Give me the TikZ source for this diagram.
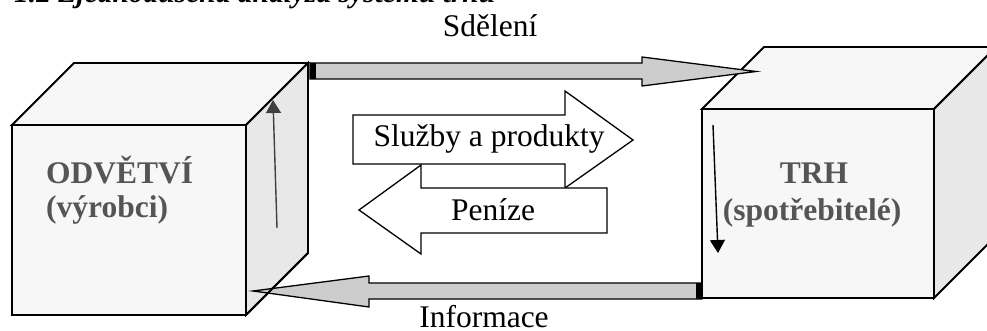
\documentclass[tikz,border=0pt]{standalone}
\usepackage{fontspec}
\setmainfont{Liberation Serif}
\usetikzlibrary{arrows.meta}
\definecolor{cubefront}{HTML}{F7F7F7}
\definecolor{cubeside}{HTML}{E8E8E8}
\definecolor{flowgray}{HTML}{CDCDCD}
\definecolor{labelgray}{HTML}{555555}
\definecolor{darkarrow}{HTML}{404040}
\begin{document}
\begin{tikzpicture}[x=1pt,y=-1pt,
  edge/.style={draw=black,line width=1.8pt,line join=miter},
  frontface/.style={edge,fill=cubefront},
  sideface/.style={edge,fill=cubeside},
  flowarrow/.style={draw=black,line width=1.3pt,fill=flowgray,line join=miter},
  tradearrow/.style={draw=black,line width=1.3pt,fill=white,line join=miter},
  tailbar/.style={fill=black},
  txt/.style={font=\fontsize{31.5}{36}\selectfont,inner sep=0pt,anchor=base},
  cubetxt/.style={txt,font=\fontsize{31.5}{36}\selectfont\bfseries,text=labelgray},
  cyclearrow/.style={line width=1.4pt,-{Triangle[length=13pt,width=15pt]}}]
\useasboundingbox (0,0) rectangle (987,331);
\clip (0,0) rectangle (987,331);

% caption line, cut by the top edge
\node[txt,anchor=base west,font=\fontsize{29.5}{34}\selectfont\bfseries\itshape]
  (caption) at (14,3) {1.2 Zjednodušená analýza systému trhu};

% ---- left cube: ODVĚTVÍ ----
\coordinate (Lftl) at (12,125);  \coordinate (Lftr) at (246,125);
\coordinate (Lfbr) at (246,315); \coordinate (Lfbl) at (12,315);
\coordinate (Lbtl) at (74,63);   \coordinate (Lbtr) at (308,63);
\coordinate (Lbbr) at (308,253);
\path[frontface] (Lftl) -- (Lbtl) -- (Lbtr) -- (Lftr) -- cycle;
\path[sideface]  (Lftr) -- (Lbtr) -- (Lbbr) -- (Lfbr) -- cycle;
\path[frontface] (Lftl) rectangle (Lfbr);

% ---- right cube: TRH ----
\coordinate (Rftl) at (702,109); \coordinate (Rftr) at (934,109);
\coordinate (Rfbr) at (934,298); \coordinate (Rfbl) at (702,298);
\coordinate (Rbtl) at (764,47);  \coordinate (Rbtr) at (996,47);
\coordinate (Rbbr) at (996,236);
\path[frontface] (Rftl) -- (Rbtl) -- (Rbtr) -- (Rftr) -- cycle;
\path[sideface]  (Rftr) -- (Rbtr) -- (Rbbr) -- (Rfbr) -- cycle;
\path[frontface] (Rftl) rectangle (Rfbr);

% cube labels
\node[cubetxt,anchor=base west] (odv) at (46,183) {ODVĚTVÍ};
\node[cubetxt,anchor=base west] (vyr) at (46,217) {(výrobci)};
\node[cubetxt] (trh) at (814,184) {TRH};
\node[cubetxt] (spo) at (812,220) {(spotřebitelé)};

% ---- Sdělení: producers -> market ----
\path[flowarrow] (310,63) -- (642,63) -- (642,57) -- (756,71.5)
  -- (642,86) -- (642,79) -- (310,79) -- cycle;
\path[tailbar] (310,63) rectangle (316,79);
\node[txt] (sdel) at (490,37) {Sdělení};

% ---- Informace: market -> producers ----
\path[flowarrow] (702,283) -- (369,283) -- (369,276) -- (253,291)
  -- (369,307) -- (369,299) -- (702,299) -- cycle;
\path[tailbar] (696,283) rectangle (702,299);
\draw[edge] (Lbbr) -- (Lfbr);
\draw[edge] (Rftl) -- (Rfbl);
\node[txt] (info) at (484,327) {Informace};

% ---- exchange in the middle ----
\path[tradearrow] (353,115) -- (565,115) -- (565,91) -- (633,140)
  -- (565,188) -- (565,164) -- (353,164) -- cycle;
\path[tradearrow] (607,188) -- (421,188) -- (421,165) -- (359,210)
  -- (421,254) -- (421,233) -- (607,233) -- cycle;
\node[txt] (sluzby) at (489,147) {Služby a produkty};
\node[txt] (penize) at (493,220) {Peníze};

% ---- internal flows ----
\coordinate (upfrom) at (277,228); \coordinate (upto) at (273,100);
\draw[cyclearrow,darkarrow] (upfrom) -- (upto);
\coordinate (downfrom) at (713,125); \coordinate (downto) at (718,253);
\draw[cyclearrow,black] (downfrom) -- (downto);
\end{tikzpicture}
\end{document}
